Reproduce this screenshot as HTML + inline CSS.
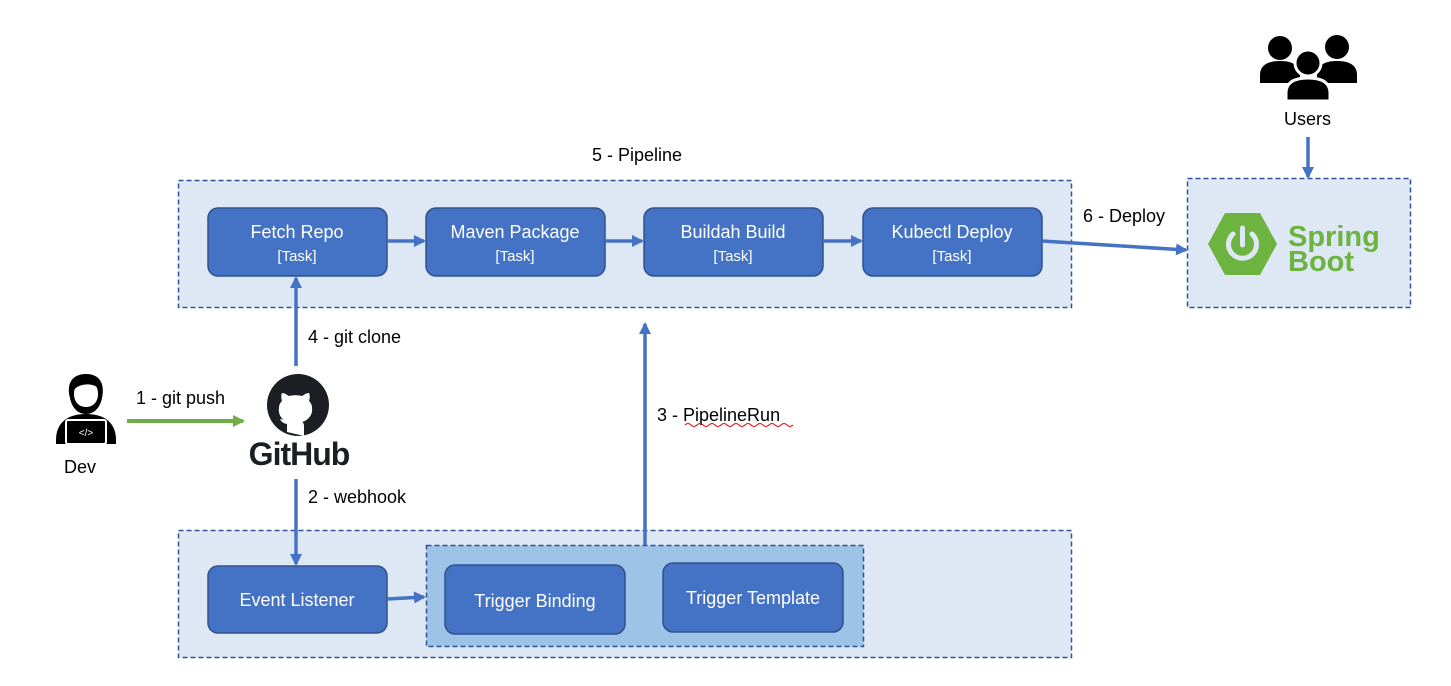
<!DOCTYPE html>
<html><head><meta charset="utf-8"><style>
html,body{margin:0;padding:0;background:#fff;}
svg{display:block;font-family:"Liberation Sans","DejaVu Sans",sans-serif;}
</style></head><body>
<svg width="1451" height="686" viewBox="0 0 1451 686" xmlns="http://www.w3.org/2000/svg">
<defs>
<marker id="ab" markerWidth="12" markerHeight="12" refX="10" refY="6" orient="auto" markerUnits="userSpaceOnUse"><path d="M0,0 L12,6 L0,12 z" fill="#4472c4"/></marker>
<marker id="ag" markerWidth="12" markerHeight="12" refX="10" refY="6" orient="auto" markerUnits="userSpaceOnUse"><path d="M0,0 L12,6 L0,12 z" fill="#70ad47"/></marker>
</defs>
<rect x="178.5" y="180.5" width="893" height="127" fill="#dee8f4" stroke="#2f5597" stroke-width="1.5" stroke-dasharray="5,3"/>
<rect x="178.5" y="530.5" width="893" height="127" fill="#dee8f4" stroke="#2f5597" stroke-width="1.5" stroke-dasharray="5,3"/>
<rect x="426.5" y="545.5" width="437" height="101" fill="#9dc3e6" stroke="#2f5597" stroke-width="1.5" stroke-dasharray="5,3"/>
<rect x="1187.5" y="178.5" width="223" height="129" fill="#dee8f4" stroke="#2f5597" stroke-width="1.5" stroke-dasharray="5,3"/>

<g fill="#4472c4" stroke="#2f528f" stroke-width="1.5">
<rect x="208" y="208" width="179" height="68" rx="10"/>
<rect x="426" y="208" width="179" height="68" rx="10"/>
<rect x="644" y="208" width="179" height="68" rx="10"/>
<rect x="863" y="208" width="179" height="68" rx="10"/>
<rect x="208" y="566" width="179" height="67" rx="10"/>
<rect x="445" y="565" width="180" height="69" rx="10"/>
<rect x="663" y="563" width="180" height="69" rx="10"/>
</g>
<g fill="#fff" font-size="18" text-anchor="middle">
<text x="297" y="238">Fetch Repo</text>
<text x="515" y="238">Maven Package</text>
<text x="733" y="238">Buildah Build</text>
<text x="952" y="238">Kubectl Deploy</text>
<text x="297" y="606">Event Listener</text>
<text x="535" y="607">Trigger Binding</text>
<text x="753" y="604">Trigger Template</text>
</g>
<g fill="#fff" font-size="15" text-anchor="middle">
<text x="297" y="261">[Task]</text>
<text x="515" y="261">[Task]</text>
<text x="733" y="261">[Task]</text>
<text x="952" y="261">[Task]</text>
</g>

<g stroke="#4472c4" stroke-width="3.5" fill="none">
<line x1="387" y1="241" x2="424" y2="241" marker-end="url(#ab)"/>
<line x1="605" y1="241" x2="642" y2="241" marker-end="url(#ab)"/>
<line x1="823" y1="241" x2="861" y2="241" marker-end="url(#ab)"/>
<line x1="1042" y1="241" x2="1186" y2="250" marker-end="url(#ab)"/>
<line x1="296" y1="366" x2="296" y2="278" marker-end="url(#ab)"/>
<line x1="296" y1="479" x2="296" y2="564" marker-end="url(#ab)"/>
<line x1="645" y1="545" x2="645" y2="324" marker-end="url(#ab)"/>
<line x1="387" y1="599" x2="424" y2="597" marker-end="url(#ab)"/>
<line x1="1308" y1="137" x2="1308" y2="177" marker-end="url(#ab)"/>
</g>
<line x1="127" y1="421" x2="243" y2="421" stroke="#70ad47" stroke-width="4" marker-end="url(#ag)"/>

<g fill="#000" font-size="18">
<text x="592" y="161">5 - Pipeline</text>
<text x="1083" y="222">6 - Deploy</text>
<text x="308" y="343">4 - git clone</text>
<text x="136" y="404">1 - git push</text>
<text x="308" y="503">2 - webhook</text>
<text x="657" y="421">3 - PipelineRun</text>
<text x="64" y="473">Dev</text>
<text x="1284" y="125">Users</text>
</g>
<path d="M685,425 q3,-3 6,0 t6,0 t6,0 t6,0 t6,0 t6,0 t6,0 t6,0 t6,0 t6,0 t6,0 t6,0 t6,0 t6,0 t6,0 t6,0 t6,0 t6,0" stroke="#e00" stroke-width="1" fill="none"/>

<g>
<path d="M70,398 c-4,-14 2,-24 16,-24 c14,0 19,10 16,24 c-2,10 -8,16 -16,16 c-8,0 -14,-6 -16,-16z" fill="#000"/>
<path d="M74,394 c0,-8 4,-12 12,-12 c8,0 12,4 12,12 c0,8 -5,13 -12,13 c-7,0 -12,-5 -12,-13z" fill="#fff"/>
<path d="M74,390 c4,-6 18,-8 24,-2 l0,-6 c-6,-6 -20,-6 -24,2z" fill="#000"/>
<path d="M56,440 c0,-16 10,-26 30,-26 c20,0 30,10 30,26 l0,4 l-60,0z" fill="#000"/>
<rect x="66" y="420" width="40" height="24" rx="2" fill="#000" stroke="#fff" stroke-width="2"/>
<text x="86" y="436" fill="#fff" font-size="10" text-anchor="middle">&lt;/&gt;</text>
</g>

<g>
<circle cx="298" cy="405" r="31" fill="#1b1f23"/>
<path d="M287,432 l0,-8 c-5,-1 -6,-3 -7,-5 c3,0 5,2 7,3 c-6,-3 -9,-8 -8,-14 c0,-3 1,-5 3,-7 c-1,-3 -1,-6 0,-8 c3,0 5,2 7,3 c4,-1 9,-1 13,0 c2,-1 4,-3 7,-3 c1,2 1,5 0,8 c2,2 3,4 3,7 c1,6 -3,12 -10,14 c2,1 2,3 2,5 l0,9 z" fill="#fff"/>
<text x="299" y="465" font-size="32" font-weight="bold" text-anchor="middle" fill="#1b1f23" letter-spacing="-1">GitHub</text>
</g>

<g fill="#000">
<circle cx="1280" cy="48" r="12"/>
<path d="M1260,83 l0,-8 c0,-10 8,-14 20,-14 c12,0 20,4 20,14 l0,8z"/>
<circle cx="1337" cy="47" r="12"/>
<path d="M1317,83 l0,-8 c0,-10 8,-14 20,-14 c12,0 20,4 20,14 l0,8z"/>
<circle cx="1308" cy="63" r="13" stroke="#fff" stroke-width="3"/>
<path d="M1286,101 l0,-8 c0,-11 9,-15 22,-15 c13,0 22,4 22,15 l0,8z" stroke="#fff" stroke-width="3"/>
</g>

<g>
<path d="M1225,213 l35,0 l17,31 l-17,31 l-35,0 l-17,-31z" fill="#6db33f"/>
<path d="M1233,234 a14,14 0 1,0 19,0" stroke="#dee8f4" stroke-width="5" fill="none" stroke-linecap="round"/>
<line x1="1242.5" y1="228" x2="1242.5" y2="245" stroke="#dee8f4" stroke-width="5" stroke-linecap="round"/>
<text x="1288" y="246" font-size="29" font-weight="bold" fill="#6db33f">Spring</text>
<text x="1288" y="271" font-size="29" font-weight="bold" fill="#6db33f">Boot</text>
</g>
</svg>
</body></html>
